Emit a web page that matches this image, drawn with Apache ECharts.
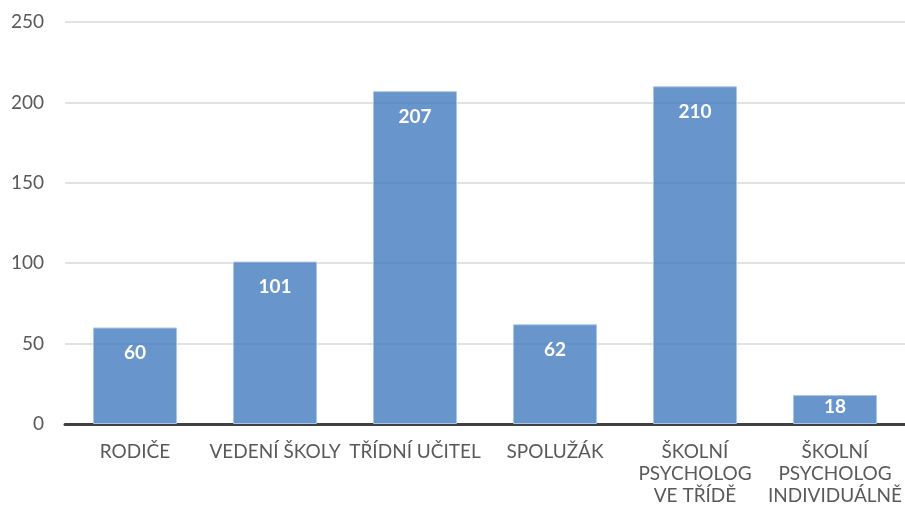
<!DOCTYPE html>
<html><head><meta charset="utf-8">
<script src="https://cdn.jsdelivr.net/npm/echarts@6/dist/echarts.min.js"></script>
<style>html,body{margin:0;padding:0;background:#fff}#c{width:905px;height:517px}</style>
</head><body><div id="c"></div>
<script>
const categories = ['RODIČE', 'VEDENÍ ŠKOLY', 'TŘÍDNÍ UČITEL', 'SPOLUŽÁK', 'ŠKOLNÍ\nPSYCHOLOG\nVE TŘÍDĚ', 'ŠKOLNÍ\nPSYCHOLOG\nINDIVIDUÁLNĚ'];
const values = [60, 101, 207, 62, 210, 18];
const yTicks = [0, 50, 100, 150, 200, 250];

const chart = echarts.init(document.getElementById('c'), null, {renderer: 'canvas'});
const font = 'Lato, "Open Sans", sans-serif';
chart.setOption({
  animation: false,
  grid: {left: 65, right: -6, top: 22, bottom: 93, containLabel: false},
  xAxis: {
    type: 'category', data: categories,
    axisLine: {show: true, lineStyle: {color: '#404040', width: 3}},
    axisTick: {show: false},
    axisLabel: {color: '#595959', fontFamily: font, fontSize: 19, lineHeight: 22, margin: 17, interval: 0}
  },
  yAxis: {
    type: 'value', min: yTicks[0], max: yTicks[yTicks.length - 1], interval: 50,
    axisLine: {show: false}, axisTick: {show: false},
    splitLine: {lineStyle: {color: '#d9d9d9', width: 1.5}},
    axisLabel: {color: '#595959', fontFamily: font, fontSize: 19, margin: 21}
  },
  series: [{
    type: 'bar', barWidth: '60%',
    data: values.map(v => ({value: v, label: {distance: v < 30 ? 2 : 16}})),
    itemStyle: {color: 'rgba(66,122,190,0.8)', borderColor: 'rgba(170,198,230,1)', borderWidth: 1},
    label: {show: true, position: 'insideTop', color: '#fff', fontWeight: 'bold', fontFamily: font, fontSize: 19}
  }]
});
</script></body></html>
